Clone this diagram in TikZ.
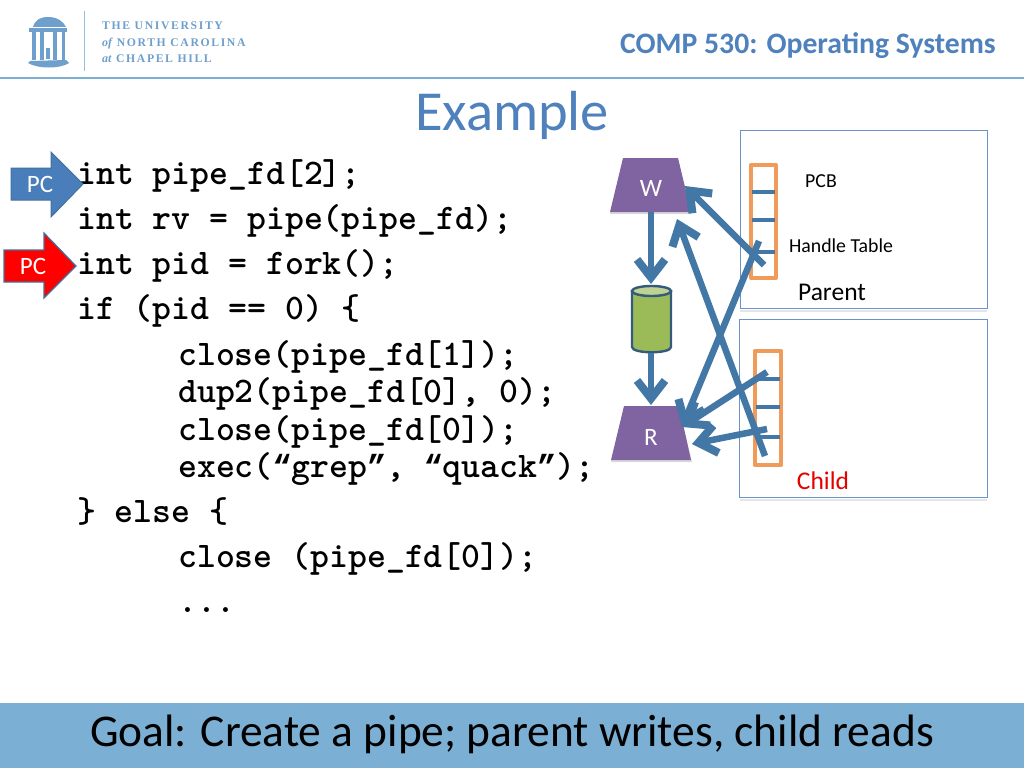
\documentclass[tikz,border=0pt]{standalone}
\usepackage{fontspec}
\setmainfont{Carlito}
\newfontfamily\logofont{Liberation Serif}[LetterSpace=14]
\newfontfamily\logoserif{Liberation Serif}
\newfontfamily\quotefont{Liberation Mono}
\newcommand{\logoital}{\logoserif\itshape\fontsize{12}{12}\selectfont}
\newcommand{\oq}{\hbox to 18.9pt{\hss{\quotefont\bfseries\fontsize{32}{32}\selectfont “}\hss}}
\newcommand{\cq}{\hbox to 18.9pt{\hss{\quotefont\bfseries\fontsize{32}{32}\selectfont ”}\hss}}
\usetikzlibrary{arrows.meta}
\definecolor{unc}{HTML}{7BAFD4}
\definecolor{titleblue}{HTML}{4F81BD}
\definecolor{steel}{HTML}{41719C}
\definecolor{pcblue}{HTML}{4A7EBB}
\definecolor{arrowblue}{HTML}{4377A6}
\definecolor{pipepurple}{HTML}{8064A2}
\definecolor{pipegreen}{HTML}{9BBB59}
\definecolor{handleorange}{HTML}{F09B59}
\definecolor{logoblue}{HTML}{6F9FCC}
\tikzset{
  codeline/.style={anchor=base west,inner sep=0pt,font=\ttfamily\bfseries\addfontfeature{FakeBold=0.5}\fontsize{36}{36}\selectfont,text=black},
  smalllabel/.style={anchor=base,inner sep=0pt,font=\fontsize{19.8}{19.8}\selectfont,text=black},
  mediumlabel/.style={anchor=base,inner sep=0pt,font=\fontsize{25.5}{25.5}\selectfont},
  whitelabel/.style={anchor=base,inner sep=0pt,font=\fontsize{25}{25}\selectfont,text=white},
  procbox/.style={draw=titleblue!85!white,line width=1pt,fill=white},
  boxshadow/.style={draw=black,opacity=.1,line width=2pt},
  tablebox/.style={draw=handleorange,line width=4pt,line join=round},
  slot/.style={draw=arrowblue,line width=3.2pt},
  link/.style={draw=arrowblue,line width=6.5pt,-{Straight Barb[length=18pt,width=28pt,line width=8pt]}},
  logotext/.style={anchor=base west,inner sep=0pt,text=logoblue,font=\logofont\bfseries\fontsize{11.7}{11.7}\selectfont},
}
\begin{document}
\begin{tikzpicture}[x=1pt,y=-1pt]
\useasboundingbox (0,0) rectangle (1024,768);
\fill[white] (0,0) rectangle (1024,768);
% header
\draw[unc,line width=1.4pt] (0,78) -- (1024,78);
\node[anchor=base east,inner sep=0pt,text=titleblue,font=\bfseries\fontsize{29.7}{29.7}\selectfont] (course) at (996,53) {COMP 530: Operating Systems};
% logo
\draw[logoblue!70!white,line width=1pt] (84,11) -- (84,71);
\fill[logoblue] (33,27) .. controls (35,20) and (40,17) .. (48,17) .. controls (57,17) and (63,21) .. (66,27) -- cycle;
\fill[logoblue] (29,28) rectangle (67,32);
\fill[logoblue] (32,32) rectangle (36,60);
\fill[logoblue] (40,32) rectangle (44,60);
\fill[logoblue] (53,32) rectangle (57,60);
\fill[logoblue] (62,32) rectangle (65,60);
\fill[logoblue] (46,48) rectangle (50,59);
\fill[logoblue] (30,61) -- (66,60) -- (69,63) .. controls (60,69) and (38,69) .. (28,63) -- cycle;
\node[logotext] (uni1) at (102,30) {THE UNIVERSITY};
\node[logotext] (uni2) at (102,47) {{\logoital of} NORTH CAROLINA};
\node[logotext] (uni3) at (102,63) {{\logoital at} CHAPEL HILL};
% title
\node[anchor=base,inner sep=0pt,text=titleblue,font=\fontsize{56.5}{56.5}\selectfont] (title) at (512,130) {Example};
% code
\node[codeline] (c1) at (77,184) {int pipe\_fd[2];};
\node[codeline] (c2) at (77,229) {int rv = pipe(pipe\_fd);};
\node[codeline] (c3) at (77,274) {int pid = fork();};
\node[codeline] (c4) at (77,319) {if (pid == 0) \{};
\node[codeline] (c5) at (178,365) {close(pipe\_fd[1]);};
\node[codeline] (c6) at (178,402) {dup2(pipe\_fd[0], 0);};
\node[codeline] (c7) at (178,440) {close(pipe\_fd[0]);};
\node[codeline] (c8) at (178,477) {exec(\oq grep\cq, \oq quack\cq);};
\node[codeline] (c9) at (77,522) {\} else \{};
\node[codeline] (c10) at (178,567) {close (pipe\_fd[0]);};
\node[codeline] (c11) at (178,612) {...};
% PC arrows
\path[fill=pcblue,draw=steel,line width=1pt] (11,168) -- (51,168) -- (51,152) -- (83,184) -- (51,217) -- (51,200) -- (11,200) -- cycle;
\node[whitelabel] (pc1) at (40,192) {PC};
\path[fill=red,draw=steel,line width=1.2pt] (4,250) -- (44,250) -- (44,233) -- (76,266) -- (44,298) -- (44,282) -- (4,282) -- cycle;
\node[whitelabel] (pc2) at (33,274) {PC};
% process boxes
\draw[boxshadow] (740,311) -- (987,311) (740,500) -- (987,500);
\draw[procbox] (740,130) rectangle (987,308);
\draw[procbox] (739,319) rectangle (987,497);
\node[smalllabel] (pcb) at (821,187) {PCB};
\node[smalllabel] (ht) at (841,252) {Handle Table};
\node[mediumlabel,text=black] (parent) at (832,300) {Parent};
\node[mediumlabel,text=red!90!black] (child) at (823,489) {Child};
% handle tables
\draw[tablebox] (751,165) rectangle (776,278);
\draw[slot] (752,192) -- (775,192) (752,220) -- (775,220) (752,252) -- (775,252);
\draw[tablebox] (755,351) rectangle (781,465);
\draw[slot] (756,379) -- (780,379) (756,407) -- (780,407) (756,437) -- (780,437);
% pipe ends
\fill[black,opacity=.15] (623,160) -- (678,160) -- (691,214) -- (610,214) -- cycle;
\fill[pipepurple] (623,158) -- (678,158) -- (691,212) -- (610,212) -- cycle;
\node[whitelabel] (w) at (651,196) {W};
\fill[black,opacity=.15] (624,408) -- (679,408) -- (692,462) -- (611,462) -- cycle;
\fill[pipepurple] (624,406) -- (679,406) -- (691,460) -- (611,460) -- cycle;
\node[whitelabel] (r) at (651,445) {R};
% cylinder
\path[fill=pipegreen,draw=steel!80!black,line width=2.4pt] (632,291) -- (632,347) .. controls (632,354) and (671,354) .. (671,347) -- (671,291) -- cycle;
\path[fill=pipegreen!65!white,draw=steel!80!black,line width=2.4pt] (651.5,291) ellipse [x radius=19.5pt,y radius=5pt];
% connector ends
\coordinate (wbot) at (651,212);
\coordinate (cyltop) at (651,284);
\coordinate (cylbot) at (651,353);
\coordinate (rtop) at (651,405);
\coordinate (wright) at (685,186);
\coordinate (wunder) at (677,219);
\coordinate (rright) at (682,427);
\coordinate (rside) at (692,444);
\coordinate (pslota) at (764,265);
\coordinate (pslotb) at (759,241);
\coordinate (cslota) at (767,372);
\coordinate (cslotb) at (767,429);
\coordinate (cslotc) at (765,456);
% connectors
\draw[link] (wbot) -- (cyltop);
\draw[link] (cylbot) -- (rtop);
\draw[link] (pslota) -- (wright);
\draw[link] (cslotc) -- (wunder);
\draw[link] (pslotb) -- (rright);
\draw[link] (cslota) -- (rright);
\draw[link] (cslotb) -- (rside);
% footer
\fill[unc] (0,703) rectangle (1024,768);
\node[anchor=base,inner sep=0pt,text=black,font=\fontsize{45.4}{45.4}\selectfont] (goal) at (512,746) {Goal: Create a pipe; parent writes, child reads};
\end{tikzpicture}
\end{document}
